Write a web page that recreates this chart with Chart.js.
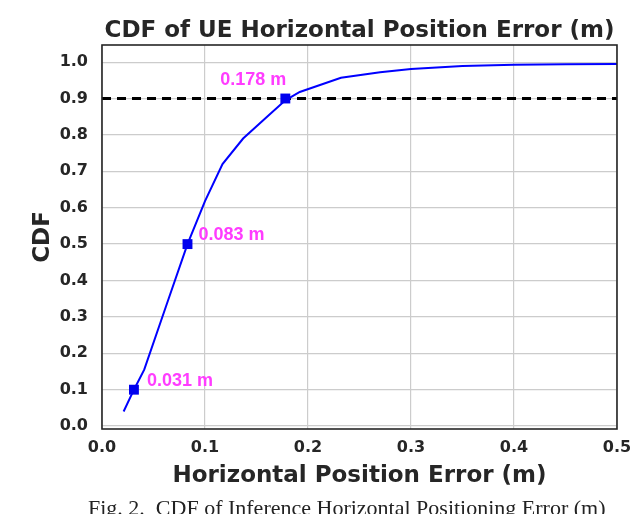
<!DOCTYPE html>
<html>
<head>
<meta charset="utf-8">
<script src="https://cdn.jsdelivr.net/npm/chart.js@4.4.0/dist/chart.umd.min.js"></script>
<style>
  html, body { margin: 0; padding: 0; background: #fff; }
  #wrap { position: relative; width: 632px; height: 514px; overflow: hidden; }
  #c { position: absolute; left: 0; top: 0; }
  #caption { position: absolute; left: 88px; top: 497px; font-family: "Liberation Serif", serif; font-size: 22px; line-height: 22px; color: #222; white-space: pre; }
</style>
</head>
<body>
<div id="wrap">
  <canvas id="c" width="632" height="514"></canvas>
  <div id="caption">Fig. 2.  CDF of Inference Horizontal Positioning Error (m)</div>
</div>
<script>
// ---- data ----
const errorX = [0.021, 0.031, 0.041, 0.062, 0.083, 0.100, 0.117, 0.137, 0.160, 0.178, 0.192, 0.232, 0.270, 0.300, 0.350, 0.400, 0.450, 0.500];
const cdfY   = [0.040, 0.100, 0.155, 0.328, 0.500, 0.618, 0.720, 0.790, 0.849, 0.895, 0.918, 0.957, 0.972, 0.981, 0.989, 0.993, 0.994, 0.995];
const markerX = [0.031, 0.083, 0.178];
const markerY = [0.10, 0.50, 0.90];
const markerLabels = ['0.031 m', '0.083 m', '0.178 m'];
const thresholdY = 0.9;
const xTicks = [0.0, 0.1, 0.2, 0.3, 0.4, 0.5];
const yTicks = [0.0, 0.1, 0.2, 0.3, 0.4, 0.5, 0.6, 0.7, 0.8, 0.9, 1.0];
const titleText = 'CDF of UE Horizontal Position Error (m)';
const xTitle = 'Horizontal Position Error (m)';
const yTitle = 'CDF';

// label offsets in px relative to marker (style only)
const labelOffsets = [[13, -9, 'left'], [11, -9, 'left'], [1, -18, 'right']];

const dark = '#262626';

const framePlugin = {
  id: 'frame',
  afterDatasetsDraw(chart) {
    const {ctx, chartArea: a, scales} = chart;
    ctx.save();
    // title
    ctx.font = 'bold 23px "DejaVu Sans"';
    ctx.fillStyle = dark;
    ctx.textAlign = 'center';
    ctx.textBaseline = 'alphabetic';
    ctx.fillText(titleText, (a.left + a.right) / 2, 37);
    // annotations
    ctx.font = 'bold 18px "Liberation Sans", Arial, sans-serif';
    ctx.fillStyle = '#ff3cff';
    ctx.textBaseline = 'middle';
    markerX.forEach((mx, i) => {
      const px = scales.x.getPixelForValue(mx);
      const py = scales.y.getPixelForValue(markerY[i]);
      const o = labelOffsets[i];
      ctx.textAlign = o[2];
      ctx.fillText(markerLabels[i], px + o[0], py + o[1]);
    });
    ctx.strokeStyle = dark;
    ctx.lineWidth = 1.6;
    ctx.strokeRect(a.left, a.top, a.right - a.left, a.bottom - a.top);
    ctx.restore();
  }
};

new Chart(document.getElementById('c'), {
  type: 'scatter',
  data: {
    datasets: [
      {
        data: markerX.map((x, i) => ({x, y: markerY[i]})),
        showLine: false,
        pointStyle: 'rect',
        pointRadius: 7,
        backgroundColor: '#0000ee',
        borderColor: '#0000ee',
        borderWidth: 0
      },
      {
        data: errorX.map((x, i) => ({x, y: cdfY[i]})),
        showLine: true,
        borderColor: '#0000ff',
        borderWidth: 2,
        pointRadius: 0,
        tension: 0,
        fill: false
      },
      {
        data: [{x: xTicks[0], y: thresholdY}, {x: xTicks[xTicks.length - 1], y: thresholdY}],
        showLine: true,
        borderColor: '#000000',
        borderWidth: 3,
        borderDash: [9, 6],
        pointRadius: 0,
        fill: false
      }
    ]
  },
  options: {
    responsive: false,
    animation: false,
    events: [],
    layout: { padding: { left: 27, right: 0, top: 45, bottom: 24 } },
    plugins: {
      legend: { display: false },
      tooltip: { enabled: false },
      title: { display: false }
    },
    scales: {
      x: {
        type: 'linear',
        min: 0, max: 0.5,
        afterBuildTicks: s => { s.ticks = xTicks.map(v => ({value: v})); },
        afterFit: s => { s.height = 61; s.paddingRight = 15; s.paddingLeft = 0; },
        grid: { color: '#cccccc', lineWidth: 1.2, drawTicks: false },
        border: { display: false },
        ticks: {
          color: dark, padding: 9,
          font: { family: '"DejaVu Sans"', size: 16, weight: 'bold' },
          callback: v => v.toFixed(1)
        },
        title: {
          display: true, text: xTitle, color: dark, padding: { top: 2, bottom: 0 },
          font: { family: '"DejaVu Sans"', size: 23, weight: 'bold' }
        }
      },
      y: {
        type: 'linear',
        min: -0.008, max: 1.047,
        afterBuildTicks: s => { s.ticks = yTicks.map(v => ({value: v})); },
        afterFit: s => { s.width = 75; },
        grid: { color: '#cccccc', lineWidth: 1.2, drawTicks: false },
        border: { display: false },
        ticks: {
          color: dark, padding: 14,
          font: { family: '"DejaVu Sans"', size: 16, weight: 'bold' },
          callback: v => v.toFixed(1)
        },
        title: {
          display: true, text: yTitle, color: dark, padding: { top: 2, bottom: 4 },
          font: { family: '"DejaVu Sans"', size: 23, weight: 'bold' }
        }
      }
    }
  },
  plugins: [framePlugin]
});
</script>
</body>
</html>
